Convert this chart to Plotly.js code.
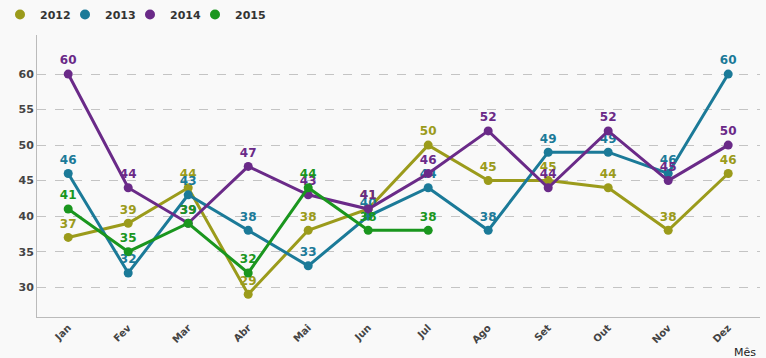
<!DOCTYPE html>
<html><head><meta charset="utf-8">
<script src="https://cdn.plot.ly/plotly-3.0.1.min.js"></script>
<style>html,body{margin:0;padding:0;background:#f9f9f9;}#chart{width:766px;height:358px;}</style>
</head><body><div id="chart"></div>
<script>
const months = ["Jan","Fev","Mar","Abr","Mai","Jun","Jul","Ago","Set","Out","Nov","Dez"];
const v2012 = [37,39,44,29,38,41,50,45,45,44,38,46];
const v2013 = [46,32,43,38,33,40,44,38,49,49,46,60];
const v2014 = [60,44,39,47,43,41,46,52,44,52,45,50];
const v2015 = [41,35,39,32,44,38,38];
const seriesNames = ["2012","2013","2014","2015"];
const seriesValues = [v2012,v2013,v2014,v2015];
const colors = ["#9b9b1b","#1b7a98","#6a2a88","#1a961e"];

const traces = seriesValues.map((vals,i)=>({
  type:"scatter", mode:"lines+markers+text",
  name:seriesNames[i], showlegend:false, legendgroup:seriesNames[i],
  x: months.slice(0,vals.length), y: vals,
  text: vals.map(String), textposition:"top center",
  textfont:{family:"Verdana, DejaVu Sans, sans-serif", size:12, color:colors[i], weight:"bold"},
  line:{color:colors[i], width:3},
  marker:{color:colors[i], size:9},
  cliponaxis:false
}));
const legendTraces = seriesNames.map((n,i)=>({
  type:"scatter", mode:"markers", name:n, legendgroup:n, x:[null], y:[null],
  marker:{color:colors[i], size:10}
}));
// invisible spacer entry so the last legend label is not clipped
legendTraces.push({type:"scatter", mode:"markers", name:" ", x:[null], y:[null], marker:{color:"rgba(0,0,0,0)", size:1}});

const layout = {
  width:766, height:358,
  paper_bgcolor:"#f9f9f9", plot_bgcolor:"#f9f9f9",
  margin:{l:37, r:6, t:35, b:41},
  showlegend:true,
  legend:{orientation:"h", x:0, y:1, xanchor:"left", yanchor:"top", xref:"container", yref:"container",
    entrywidth:20, entrywidthmode:"pixels",
    font:{family:"Verdana, DejaVu Sans, sans-serif", size:11, color:"#333", weight:"bold"}, itemwidth:30, bgcolor:"rgba(0,0,0,0)"},
  xaxis:{type:"category", categoryarray:months, range:[-0.52,11.53], showgrid:false, showline:true, linecolor:"#bbb", linewidth:1,
    tickangle:-45, ticks:"", tickfont:{family:"Verdana, DejaVu Sans, sans-serif", size:10, color:"#444", weight:"bold"}, zeroline:false},
  yaxis:{range:[25.8,65.5], tickvals:[30,35,40,45,50,55,60], showgrid:true, gridcolor:"#c4c4c4", griddash:"dash", gridwidth:1,
    showline:true, linecolor:"#bbb", linewidth:1, ticks:"", zeroline:false,
    tickfont:{family:"Verdana, DejaVu Sans, sans-serif", size:11, color:"#444", weight:"bold"}},
  annotations:[{text:"Mês", xref:"paper", yref:"paper", x:1, y:0, xanchor:"right", yanchor:"top", yshift:-27, xshift:-2, showarrow:false,
    font:{family:"Verdana, DejaVu Sans, sans-serif", size:11, color:"#222"}}]
};
Plotly.newPlot("chart", traces.concat(legendTraces), layout, {displayModeBar:false, staticPlot:true});
</script></body></html>
